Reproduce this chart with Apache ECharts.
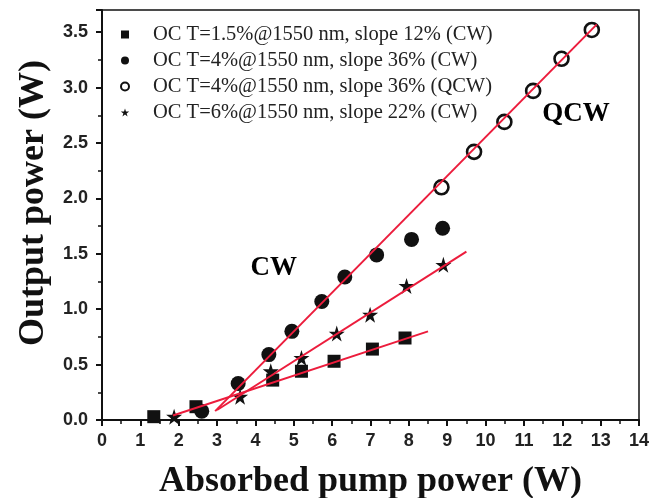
<!DOCTYPE html>
<html><head><meta charset="utf-8">
<script src="https://cdn.jsdelivr.net/npm/echarts@6/dist/echarts.min.js"></script>
<style>html,body{margin:0;padding:0;background:#fff}#c{width:665px;height:498px}</style>
</head><body><div id="c"></div>
<script>
// ---- data ----
const legendNames = [
  'OC T=1.5%@1550 nm, slope 12% (CW)',
  'OC T=4%@1550 nm, slope 36% (CW)',
  'OC T=4%@1550 nm, slope 36% (QCW)',
  'OC T=6%@1550 nm, slope 22% (CW)'
];
const sq15 = [[1.35,0.03],[2.45,0.12],[4.45,0.36],[5.2,0.44],[6.05,0.53],[7.05,0.64],[7.9,0.74]];
const cw4 = [[2.6,0.08],[3.55,0.33],[4.35,0.59],[4.95,0.80],[5.73,1.07],[6.33,1.29],[7.16,1.49],[8.07,1.63],[8.88,1.73]];
const qcw4 = [[8.85,2.10],[9.7,2.42],[10.49,2.69],[11.24,2.97],[11.98,3.26],[12.77,3.52]];
const st6 = [[1.88,0.03],[3.6,0.21],[4.4,0.44],[5.2,0.56],[6.12,0.78],[6.99,0.95],[7.94,1.21],[8.9,1.40]];
const fit12 = [[1.85,0.04],[8.5,0.80]];
const fit22 = [[3.0,0.09],[9.5,1.52]];
const fit36 = [[2.95,0.08],[12.9,3.57]];
const annotations = [[4.48,1.37,'CW'],[12.36,2.76,'QCW']];
const xTitle = 'Absorbed pump power (W)';
const yTitle = 'Output power (W)';

const SQUARE = 'path://M0,0H10V10H0Z';
const STAR = 'path://M50,0L61.2,34.5L97.6,34.5L68.2,55.9L79.4,90.5L50,69.1L20.6,90.5L31.8,55.9L2.4,34.5L38.8,34.5Z';
const RED = '#ec1c3c';

const chart = echarts.init(document.getElementById('c'), null, {renderer:'canvas'});
const tickLabel = {fontFamily:'Liberation Sans', fontWeight:'bold', fontSize:18, color:'#222'};
const titleFont = {fontFamily:'Liberation Serif', fontWeight:'bold', fontSize:36, color:'#111'};

chart.setOption({
  animation:false,
  backgroundColor:'#fff',
  grid:{left:102,right:26,top:10,bottom:78,show:true,borderColor:'#111',borderWidth:1.5,
        backgroundColor:'transparent',containLabel:false,outerBoundsMode:'none'},
  legend:{
    data:legendNames, orient:'vertical', left:115, top:19,
    itemWidth:46, itemHeight:8, itemGap:5, symbolKeepAspect:true,
    textStyle:{fontFamily:'Liberation Serif', fontSize:20.5, lineHeight:20, color:'#222'},
    selectedMode:false
  },
  xAxis:{
    type:'value', min:0, max:14, interval:1,
    name:xTitle, nameLocation:'middle', nameGap:44, nameTextStyle:titleFont,
    axisLine:{onZero:false,lineStyle:{color:'#111',width:2}},
    axisTick:{inside:false,length:6,lineStyle:{color:'#111',width:2}},
    minorTick:{show:true,splitNumber:2,length:4,lineStyle:{color:'#111',width:1.5}},
    axisLabel:Object.assign({margin:12},tickLabel),
    splitLine:{show:false}
  },
  yAxis:{
    type:'value', min:0, max:3.7, interval:0.5,
    name:yTitle, nameLocation:'middle', nameGap:50,
    nameTextStyle:Object.assign({padding:[0,0,0,24]},titleFont),
    axisLine:{onZero:false,lineStyle:{color:'#111',width:2}},
    axisTick:{inside:false,length:6,lineStyle:{color:'#111',width:2}},
    minorTick:{show:true,splitNumber:2,length:4,lineStyle:{color:'#111',width:1.5}},
    axisLabel:Object.assign({margin:14,formatter:function(v){
      return Math.abs(v*2-Math.round(v*2))<1e-6 ? v.toFixed(1) : '';
    }},tickLabel),
    splitLine:{show:false}
  },
  series:[
    {name:legendNames[0],type:'scatter',data:sq15,symbol:SQUARE,symbolSize:13,itemStyle:{color:'#111',opacity:1},z:2},
    {name:legendNames[1],type:'scatter',data:cw4,symbol:'circle',symbolSize:15,itemStyle:{color:'#111',opacity:1},z:2},
    {name:legendNames[2],type:'scatter',data:qcw4,symbol:'circle',symbolSize:14,itemStyle:{color:'rgba(0,0,0,0)',borderColor:'#111',borderWidth:2.6,opacity:1},z:2},
    {name:legendNames[3],type:'scatter',data:st6,symbol:STAR,symbolSize:16,itemStyle:{color:'#111',opacity:1},z:2},
    {name:'fit12',type:'line',data:fit12,symbol:'none',lineStyle:{color:RED,width:2},z:5},
    {name:'fit22',type:'line',data:fit22,symbol:'none',lineStyle:{color:RED,width:2},z:5},
    {name:'fit36',type:'line',data:fit36,symbol:'none',lineStyle:{color:RED,width:2},z:5},
    {name:'annot',type:'scatter',data:annotations,symbolSize:0,z:6,itemStyle:{opacity:1,color:'#000'},
     label:{show:true,position:'inside',formatter:function(p){return p.data[2];},
       fontFamily:'Liberation Serif',fontWeight:'bold',fontSize:27,color:'#000',opacity:1,
       textBorderWidth:0,textBorderColor:'transparent'}}
  ]
});
</script>
</body></html>
